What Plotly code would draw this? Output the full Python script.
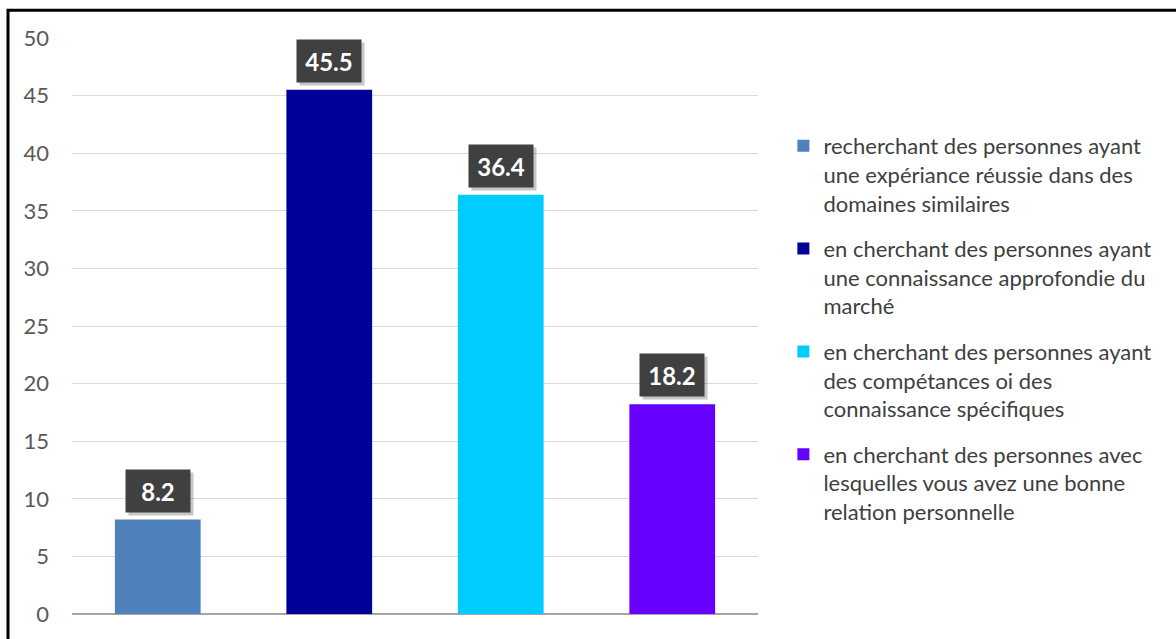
import plotly.graph_objects as go

categories = [
    "recherchant des personnes ayant<br>une expériance réussie dans des<br>domaines similaires",
    "en cherchant des personnes ayant<br>une connaissance approfondie du<br>marché",
    "en cherchant des personnes ayant<br>des compétances oi des<br>connaissance spécifiques",
    "en cherchant des personnes avec<br>lesquelles vous avez une bonne<br>relation personnelle",
]
values = [8.2, 45.5, 36.4, 18.2]
colors = ["#4F81BD", "#000099", "#00CCFF", "#6600FF"]
y_ticks = [0, 5, 10, 15, 20, 25, 30, 35, 40, 45, 50]

FONT = "Lato, Open Sans, sans-serif"

fig = go.Figure()
for i, (cat, val, col) in enumerate(zip(categories, values, colors)):
    fig.add_trace(go.Bar(
        x=[i], y=[val], name=cat, marker=dict(color=col, line=dict(width=0)),
        width=0.5, legendgroup=f"g{i}", hoverinfo="y",
    ))

annotations = []
for i, val in enumerate(values):
    # shadow
    annotations.append(dict(
        x=i, y=val, xref="x", yref="y", text=" ", showarrow=False,
        xanchor="center", yanchor="bottom", xshift=3, yshift=4,
        width=60, height=38, borderpad=2, bgcolor="rgba(0,0,0,0.22)",
        font=dict(size=21, family=FONT),
    ))
    annotations.append(dict(
        x=i, y=val, xref="x", yref="y", text=f"<b>{val}</b>", showarrow=False,
        xanchor="center", yanchor="bottom", yshift=7,
        width=60, height=38, borderpad=2, bgcolor="#404040",
        font=dict(size=24, family=FONT, color="white"),
    ))

fig.update_layout(
    width=1176, height=639,
    margin=dict(l=72, r=418, t=38, b=20),
    paper_bgcolor="white", plot_bgcolor="white",
    barmode="overlay",
    showlegend=True,
    legend=dict(
        x=1.037, y=0.849, xanchor="left", yanchor="top",
        font=dict(family=FONT, size=22, color="#404040"),
        tracegroupgap=14, itemwidth=30, traceorder="grouped", valign="top",
        bgcolor="rgba(0,0,0,0)",
    ),
    xaxis=dict(
        range=[-0.5, 3.5], showticklabels=False, showgrid=False, zeroline=False,
        ticks="", fixedrange=True,
    ),
    yaxis=dict(
        range=[0, 50], tickvals=y_ticks, ticktext=[str(v) for v in y_ticks],
        showgrid=True, gridcolor="#D9D9D9", gridwidth=1,
        zeroline=True, zerolinecolor="#A6A6A6", zerolinewidth=2,
        tickfont=dict(family=FONT, size=22, color="#595959"),
        ticks="", ticklabelstandoff=22,
    ),
    annotations=annotations,
    shapes=[dict(
        type="rect", xref="paper", yref="paper",
        x0=(8 - 72) / 686, x1=1.7, y0=-0.3, y1=(619 - 10) / 581,
        line=dict(color="black", width=3), fillcolor="rgba(0,0,0,0)", layer="above",
    )],
)

fig.write_html("out.html", config={"displayModeBar": False},
               post_script="document.body.style.margin='0';")
